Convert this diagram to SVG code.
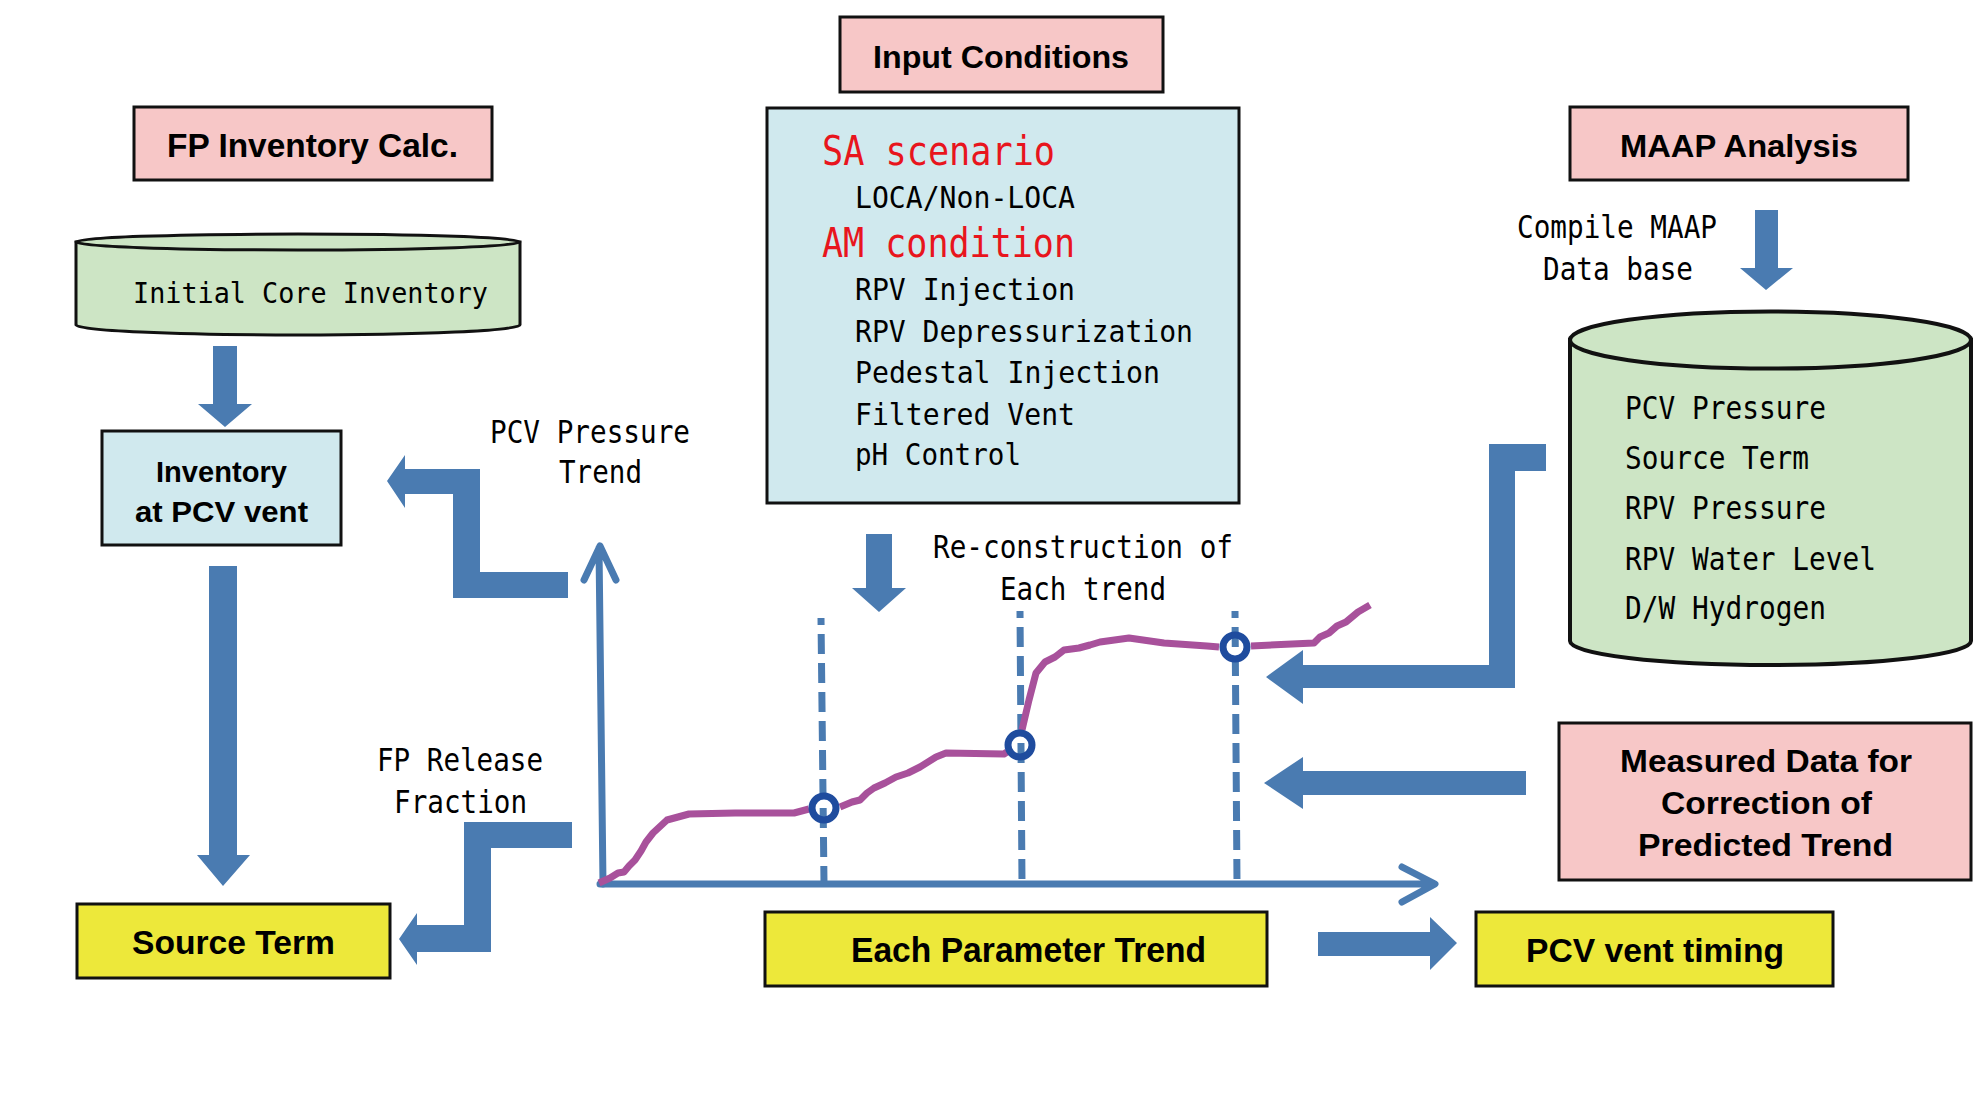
<svg xmlns="http://www.w3.org/2000/svg" width="1974" height="1100" viewBox="0 0 1974 1100">
<style>
.box{stroke:#111;stroke-width:3}
.pink{fill:#f7c7c7}
.lblue{fill:#d0e9ee}
.yellow{fill:#ede83a}
.green{fill:#cde5c5}
.sans{font-family:"Liberation Sans",Arial,sans-serif;font-weight:bold;fill:#000}
.mono{font-family:"DejaVu Sans Mono","Liberation Mono",monospace;fill:#000}
.red{fill:#e8151d}
.arrow{fill:#4a7bb1}
.dash{stroke:#4a7bb1;stroke-width:7;stroke-dasharray:20 9;fill:none}
.axis{stroke:#4a7bb1;stroke-width:7;fill:none;stroke-linecap:round;stroke-linejoin:round}
.curve{stroke:#a8519b;stroke-width:7;fill:none;stroke-linejoin:round}
.ring{stroke:#1f4c9e;stroke-width:7;fill:none}
</style>
<rect x="0" y="0" width="1974" height="1100" fill="#fff"/>

<g id="fp-inventory-calc">
<rect class="box pink" x="134" y="107" width="358" height="73"/>
<text class="sans" x="167" y="157" font-size="33" textLength="291" lengthAdjust="spacingAndGlyphs">FP Inventory Calc.</text>
</g>

<g id="initial-core-inventory">
<path class="box green" d="M76,242 V325 A222,10 0 0 0 520,325 V242 Z"/>
<ellipse class="box green" cx="298" cy="242" rx="222" ry="8"/>
<text class="mono" x="133" y="303" font-size="29" textLength="355" lengthAdjust="spacingAndGlyphs">Initial Core Inventory</text>
</g>

<g id="inventory-at-pcv-vent">
<rect class="box lblue" x="102" y="431" width="239" height="114"/>
<text class="sans" x="156" y="482" font-size="30" textLength="131" lengthAdjust="spacingAndGlyphs">Inventory</text>
<text class="sans" x="135" y="522" font-size="30" textLength="173" lengthAdjust="spacingAndGlyphs">at PCV vent</text>
</g>

<g id="source-term">
<rect class="box yellow" x="77" y="904" width="313" height="74"/>
<text class="sans" x="132" y="954" font-size="33" textLength="203" lengthAdjust="spacingAndGlyphs">Source Term</text>
</g>

<g id="input-conditions">
<rect class="box pink" x="840" y="17" width="323" height="75"/>
<text class="sans" x="873" y="68" font-size="32" textLength="256" lengthAdjust="spacingAndGlyphs">Input Conditions</text>
</g>

<g id="conditions-list">
<rect class="box lblue" x="767" y="108" width="472" height="395"/>
<text class="mono red" x="822" y="165" font-size="41" textLength="233" lengthAdjust="spacingAndGlyphs">SA scenario</text>
<text class="mono" x="855" y="208" font-size="31" textLength="220" lengthAdjust="spacingAndGlyphs">LOCA/Non-LOCA</text>
<text class="mono red" x="822" y="257" font-size="41" textLength="253" lengthAdjust="spacingAndGlyphs">AM condition</text>
<text class="mono" x="855" y="300" font-size="31" textLength="220" lengthAdjust="spacingAndGlyphs">RPV Injection</text>
<text class="mono" x="855" y="342" font-size="31" textLength="338" lengthAdjust="spacingAndGlyphs">RPV Depressurization</text>
<text class="mono" x="855" y="383" font-size="31" textLength="305" lengthAdjust="spacingAndGlyphs">Pedestal Injection</text>
<text class="mono" x="855" y="425" font-size="31" textLength="220" lengthAdjust="spacingAndGlyphs">Filtered Vent</text>
<text class="mono" x="855" y="465" font-size="31" textLength="166" lengthAdjust="spacingAndGlyphs">pH Control</text>
</g>

<g id="maap-analysis">
<rect class="box pink" x="1570" y="107" width="338" height="73"/>
<text class="sans" x="1620" y="157" font-size="32" textLength="238" lengthAdjust="spacingAndGlyphs">MAAP Analysis</text>
</g>

<g id="maap-database">
<path class="box green" style="stroke-width:4" d="M1570,340 V641 A200.5,24 0 0 0 1971,641 V340 Z"/>
<ellipse class="box green" style="stroke-width:4" cx="1770.5" cy="340" rx="200.5" ry="28.5"/>
<text class="mono" x="1625" y="419" font-size="32" textLength="201" lengthAdjust="spacingAndGlyphs">PCV Pressure</text>
<text class="mono" x="1625" y="469" font-size="32" textLength="184" lengthAdjust="spacingAndGlyphs">Source Term</text>
<text class="mono" x="1625" y="519" font-size="32" textLength="201" lengthAdjust="spacingAndGlyphs">RPV Pressure</text>
<text class="mono" x="1625" y="570" font-size="32" textLength="251" lengthAdjust="spacingAndGlyphs">RPV Water Level</text>
<text class="mono" x="1625" y="619" font-size="32" textLength="201" lengthAdjust="spacingAndGlyphs">D/W Hydrogen</text>
</g>

<g id="measured-data">
<rect class="box pink" x="1559" y="723" width="412" height="157"/>
<text class="sans" x="1620" y="772" font-size="32" textLength="292" lengthAdjust="spacingAndGlyphs">Measured Data for</text>
<text class="sans" x="1661" y="814" font-size="32" textLength="211" lengthAdjust="spacingAndGlyphs">Correction of</text>
<text class="sans" x="1638" y="856" font-size="32" textLength="255" lengthAdjust="spacingAndGlyphs">Predicted Trend</text>
</g>

<g id="each-parameter-trend">
<rect class="box yellow" x="765" y="912" width="502" height="74"/>
<text class="sans" x="851" y="962" font-size="35" textLength="355" lengthAdjust="spacingAndGlyphs">Each Parameter Trend</text>
</g>

<g id="pcv-vent-timing">
<rect class="box yellow" x="1476" y="912" width="357" height="74"/>
<text class="sans" x="1526" y="962" font-size="34" textLength="258" lengthAdjust="spacingAndGlyphs">PCV vent timing</text>
</g>

<g id="trend-chart">
<line class="dash" x1="821" y1="618" x2="824" y2="883" stroke-dashoffset="13"/>
<line class="dash" x1="1020" y1="611" x2="1022" y2="883" stroke-dashoffset="13"/>
<line class="dash" x1="1235" y1="611" x2="1237" y2="883" stroke-dashoffset="13"/>
<path class="axis" d="M603,884 L599,548 M584,580 L600,546 L616,580"/>
<path class="axis" d="M600,884 L1433,884 M1402,867 L1435,884 L1402,902"/>
<path class="curve" d="M599,883 L610,878 L618,873 L624,872 L629,866 L635,860 L641,851 L646,842 L653,833 L667,820 L678,817 L689,814 L735,813 L794,813 L809,809 M840,807 L852,802 L860,800 L867,793 L874,788 L885,783 L896,777 L908,773 L920,767 L936,757 L946,753 L1004,754 L1007,752 M1022,730 L1029,700 L1036,673 L1045,662 L1055,657 L1064,650 L1079,648 L1090,645 L1100,642 L1129,638 L1164,643 L1207,646 L1219,647 M1251,646 L1314,643 L1320,637 L1329,633 L1337,626 L1346,622 L1358,612 L1370,605"/>
<circle class="ring" cx="824" cy="808" r="12"/>
<circle class="ring" cx="1020" cy="745" r="12"/>
<circle class="ring" cx="1235" cy="647" r="12"/>
<text class="mono" x="490" y="443" font-size="32" textLength="200" lengthAdjust="spacingAndGlyphs">PCV Pressure</text>
<text class="mono" x="559" y="483" font-size="32" textLength="83" lengthAdjust="spacingAndGlyphs">Trend</text>
<text class="mono" x="377" y="771" font-size="32" textLength="166" lengthAdjust="spacingAndGlyphs">FP Release</text>
<text class="mono" x="394" y="813" font-size="32" textLength="133" lengthAdjust="spacingAndGlyphs">Fraction</text>
<text class="mono" x="933" y="558" font-size="32" textLength="300" lengthAdjust="spacingAndGlyphs">Re-construction of</text>
<text class="mono" x="1000" y="600" font-size="32" textLength="166" lengthAdjust="spacingAndGlyphs">Each trend</text>
<text class="mono" x="1517" y="238" font-size="32" textLength="200" lengthAdjust="spacingAndGlyphs">Compile MAAP</text>
<text class="mono" x="1543" y="280" font-size="32" textLength="150" lengthAdjust="spacingAndGlyphs">Data base</text>
</g>

<g id="connectors">
<polygon class="arrow" points="213,346 237,346 237,404 252,404 225,427 198,404 213,404"/>
<polygon class="arrow" points="209,566 237,566 237,855 250,855 223,886 197,855 209,855"/>
<polygon class="arrow" points="866,534 892,534 892,588 906,588 879,612 852,588 866,588"/>
<polygon class="arrow" points="1755,210 1778,210 1778,268 1793,268 1766,290 1740,268 1755,268"/>
<polygon class="arrow" points="568,572 568,598 453,598 453,494 405,494 405,508 387,481 405,455 405,469 480,469 480,572"/>
<polygon class="arrow" points="572,822 572,848 491,848 491,952 417,952 417,965 399,939 417,913 417,925 464,925 464,822"/>
<polygon class="arrow" points="1546,444 1546,471 1515,471 1515,688 1303,688 1303,704 1266,677 1303,650 1303,665 1489,665 1489,444"/>
<polygon class="arrow" points="1526,771 1526,795 1303,795 1303,809 1264,783 1303,757 1303,771"/>
<polygon class="arrow" points="1318,932 1430,932 1430,917 1457,943 1430,970 1430,956 1318,956"/>
</g>
</svg>
